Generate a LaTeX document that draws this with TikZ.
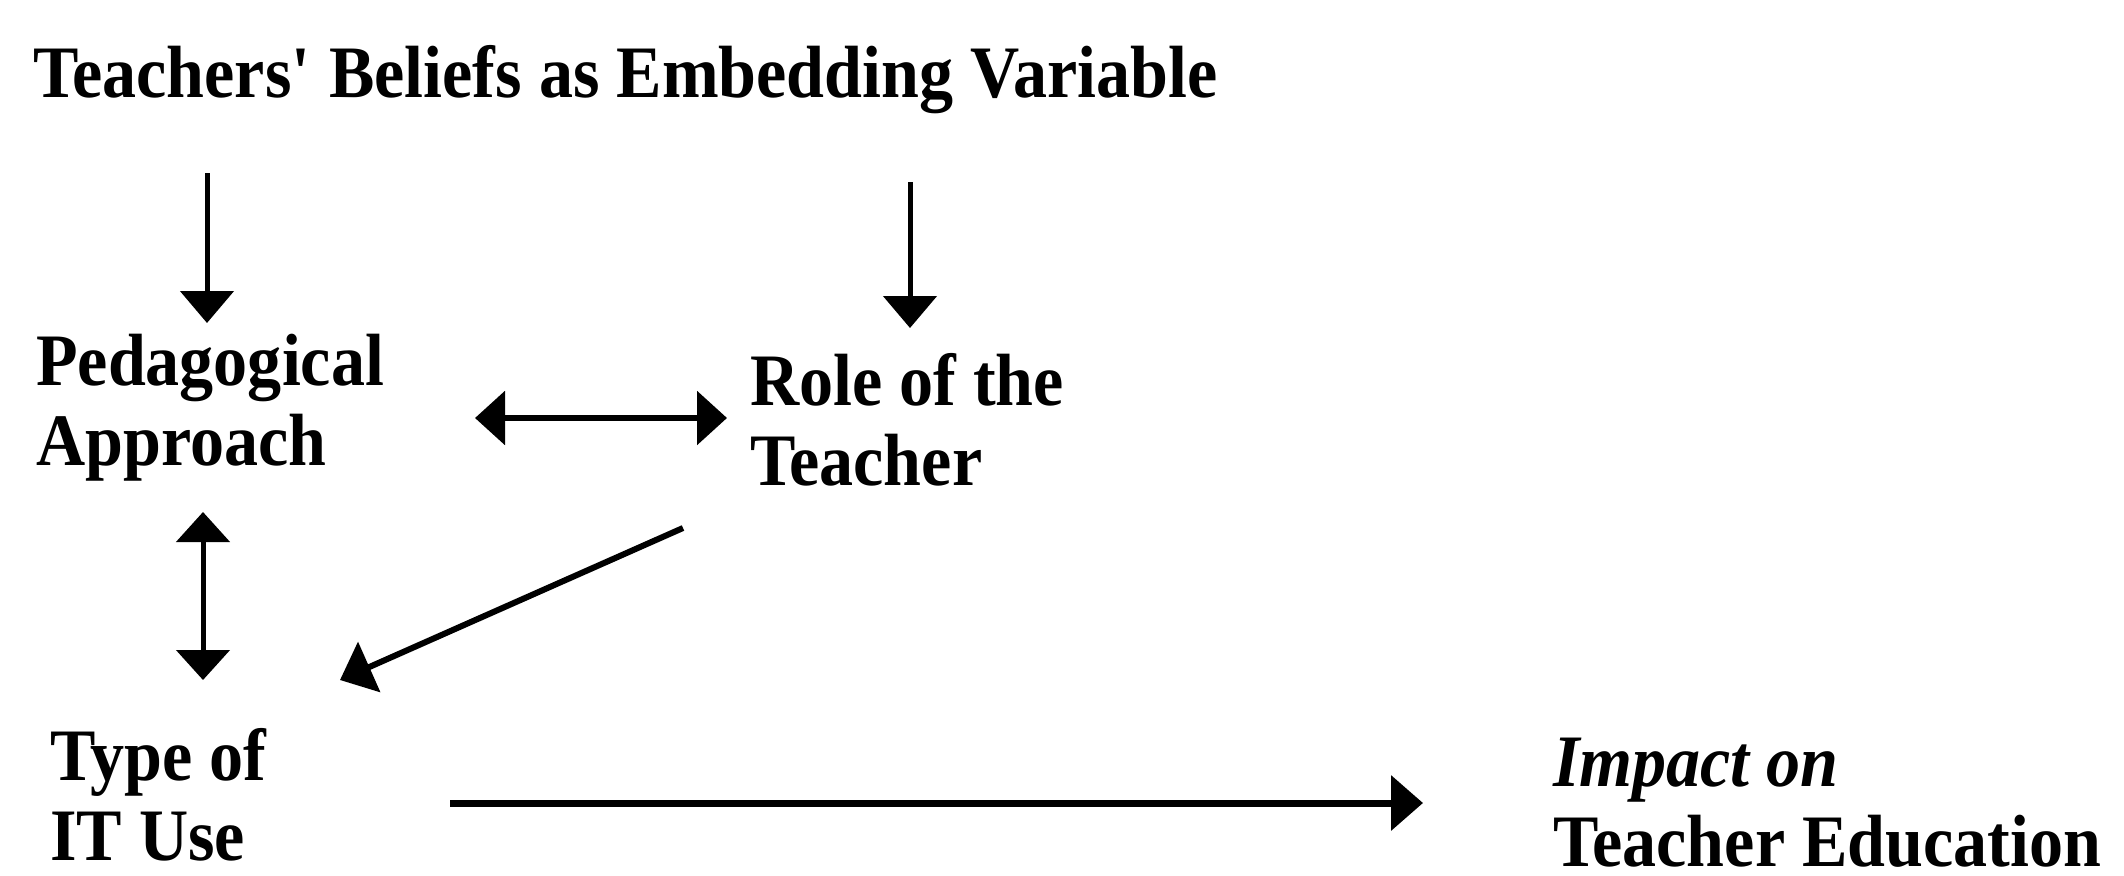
\documentclass[tikz,border=0pt]{standalone}
\usepackage{fontspec}
\setmainfont{Liberation Serif}[FakeStretch=0.92]
\usetikzlibrary{arrows.meta}
\begin{document}
\begin{tikzpicture}[x=1pt,y=-1pt,
  lbl/.style={anchor=base west,inner sep=0pt,align=left,
    font=\fontsize{74}{80}\selectfont\bfseries},
  thinarr/.style={line width=5pt,-{Triangle[length=32pt,width=53pt]}},
  thickarr/.style={line width=7pt,-{Triangle[length=32pt,width=54pt]}},
  dblarr/.style={line width=6pt,{Triangle[length=30pt,width=53pt]}-{Triangle[length=30pt,width=53pt]}}]
\useasboundingbox (0,0) rectangle (2124,875);
% anchor base = baseline of the last line
\node[lbl] (title) at (33,97) {Teachers\textquotesingle{} Beliefs as Embedding Variable};
\node[lbl] (ped) at (36,465) {Pedagogical\\Approach};
\node[lbl] (role) at (750,485) {Role of the\\Teacher};
\node[lbl] (type) at (50,860) {Type of\\IT Use};
\node[lbl] (impact) at (1553,866) {\textit{Impact on}\\Teacher Education};
% free ends
\coordinate (t1) at (207,173);
\coordinate (p1) at (207,323);
\coordinate (t2) at (910,182);
\coordinate (r2) at (910,328);
\coordinate (pr1) at (475,418);
\coordinate (pr2) at (727,418);
\coordinate (pt1) at (203,512);
\coordinate (pt2) at (203,680);
\coordinate (rt1) at (683,528);
\coordinate (rt2) at (340,680);
\coordinate (ti1) at (450,803);
\coordinate (ti2) at (1423,803);
\draw[thinarr] (t1) -- (p1);
\draw[thinarr] (t2) -- (r2);
\draw[dblarr] (pr1) -- (pr2);
\draw[dblarr,line width=5pt] (pt1) -- (pt2);
\draw[thickarr,line width=6pt] (rt1) -- (rt2);
\draw[thickarr] (ti1) -- (ti2);
\end{tikzpicture}
\end{document}
